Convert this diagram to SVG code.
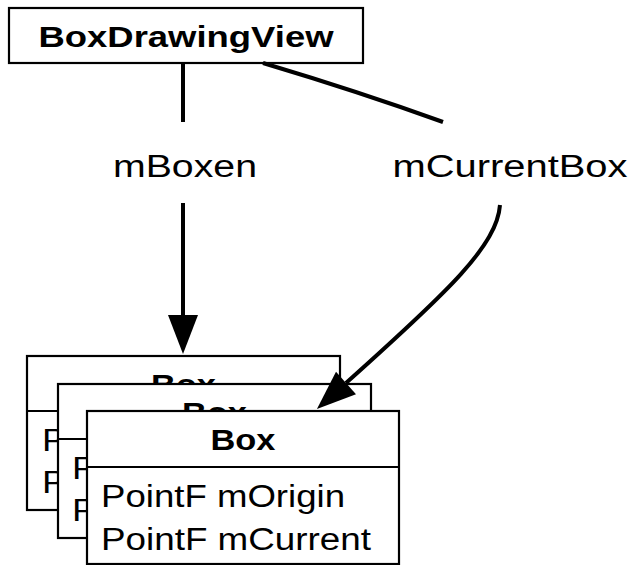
<svg xmlns="http://www.w3.org/2000/svg" width="632" height="565" viewBox="0 0 632 565">
<style>
.box{fill:#fff;stroke:#000;stroke-width:2.2}
.t{font-family:"Liberation Sans",Arial,sans-serif;fill:#000}
.b{font-weight:bold}
.c{fill:none;stroke:#000;stroke-width:4}
</style>
<defs>
<marker id="ah" markerUnits="userSpaceOnUse" markerWidth="40" markerHeight="32" refX="0" refY="15" orient="auto" overflow="visible">
<path d="M0,0 L39,15 L0,30 z" fill="#000"/>
</marker>
</defs>
<rect width="632" height="565" fill="#fff"/>
<g id="BoxDrawingView">
<rect class="box" x="9" y="8" width="354" height="55" stroke-width="2.5"/>
<text class="t b" x="186" y="47" font-size="29" text-anchor="middle" textLength="295" lengthAdjust="spacingAndGlyphs">BoxDrawingView</text>
</g>
<g id="label-mBoxen">
<text class="t" x="185" y="177" font-size="31" text-anchor="middle" textLength="144" lengthAdjust="spacingAndGlyphs">mBoxen</text>
</g>
<g id="label-mCurrentBox">
<text class="t" x="510" y="177" font-size="31" text-anchor="middle" textLength="235" lengthAdjust="spacingAndGlyphs">mCurrentBox</text>
</g>
<g id="box1">
<rect class="box" x="27" y="356" width="313" height="154"/>
<line class="box" x1="27" y1="411" x2="340" y2="411"/>
<text class="t b" x="183.5" y="395" font-size="30" text-anchor="middle" textLength="65" lengthAdjust="spacingAndGlyphs">Box</text>
<text class="t" x="42" y="451" font-size="31" textLength="244" lengthAdjust="spacingAndGlyphs">PointF mOrigin</text>
<text class="t" x="42" y="493" font-size="31" textLength="270" lengthAdjust="spacingAndGlyphs">PointF mCurrent</text>
</g>
<g id="box2">
<rect class="box" x="58" y="384" width="313" height="154"/>
<line class="box" x1="58" y1="439" x2="371" y2="439"/>
<text class="t b" x="214.5" y="423" font-size="30" text-anchor="middle" textLength="65" lengthAdjust="spacingAndGlyphs">Box</text>
<text class="t" x="72" y="479" font-size="31" textLength="244" lengthAdjust="spacingAndGlyphs">PointF mOrigin</text>
<text class="t" x="72" y="521" font-size="31" textLength="270" lengthAdjust="spacingAndGlyphs">PointF mCurrent</text>
</g>
<g id="box3">
<rect class="box" x="87" y="411" width="312" height="153"/>
<line class="box" x1="87" y1="467" x2="399" y2="467"/>
<text class="t b" x="243" y="450" font-size="30" text-anchor="middle" textLength="65" lengthAdjust="spacingAndGlyphs">Box</text>
<text class="t" x="101" y="507" font-size="31" textLength="244" lengthAdjust="spacingAndGlyphs">PointF mOrigin</text>
<text class="t" x="101" y="550" font-size="31" textLength="270" lengthAdjust="spacingAndGlyphs">PointF mCurrent</text>
</g>
<g id="connectors">
<line class="c" x1="183" y1="63" x2="183" y2="122"/>
<path class="c" d="M263,63 Q360,92 443,122"/>
<line class="c" x1="183" y1="203" x2="183" y2="315" marker-end="url(#ah)"/>
<path class="c" d="M500,205 C497,245 450,290 346,383" marker-end="url(#ah)"/>
</g>
</svg>
